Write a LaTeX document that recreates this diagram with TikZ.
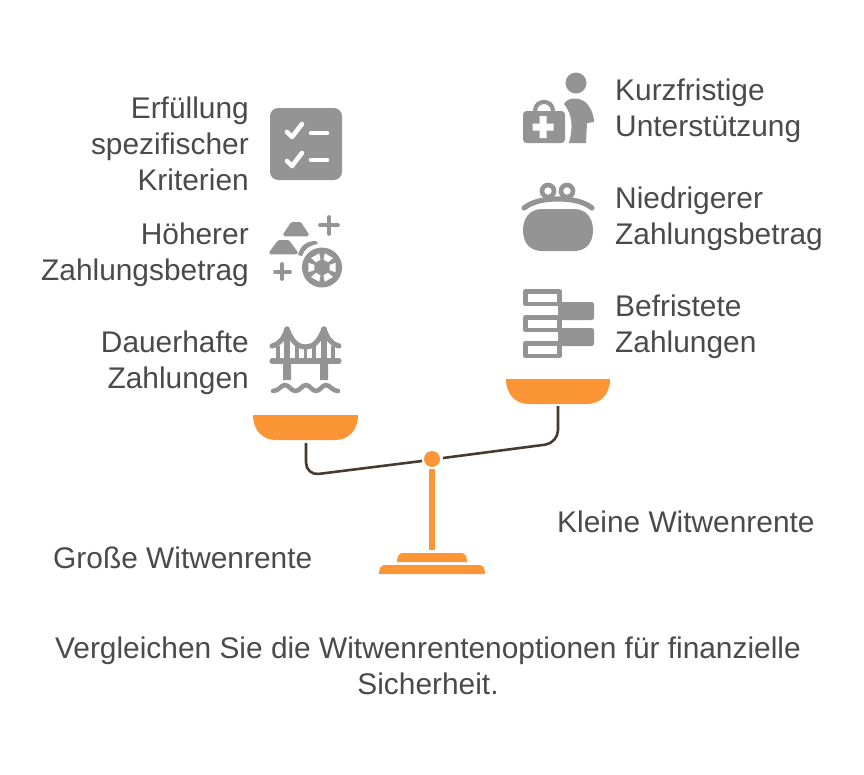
\documentclass[tikz,border=0pt]{standalone}
\usepackage{fontspec}
\setmainfont{Liberation Sans}
\definecolor{labelgray}{HTML}{4A4A4A}
\definecolor{icongray}{HTML}{949494}
\definecolor{scaleorange}{HTML}{FB9536}
\definecolor{beambrown}{HTML}{46392E}
\tikzset{
  lefttext/.style={anchor=east,align=right,text=labelgray,font=\fontsize{25.5}{30.7}\selectfont,inner sep=0pt},
  righttext/.style={anchor=west,align=left,text=labelgray,font=\fontsize{25.5}{30.7}\selectfont,inner sep=0pt},
  captiontext/.style={align=center,text=labelgray,font=\fontsize{25.5}{30.7}\selectfont,inner sep=0pt},
  iconline/.style={draw=icongray,line width=4.4pt,line cap=round,line join=round},
  whiteline/.style={draw=white,line width=3.9pt,line cap=round,line join=round},
  beamline/.style={draw=beambrown,line width=2.2pt,rounded corners=11pt}
}
\begin{document}
\begin{tikzpicture}[x=0.03cm,y=-0.03cm,line cap=round,line join=round]
  \useasboundingbox (0,0) rectangle (864,774);

  % Labels on the left
  \node[lefttext] (kriterien) at (249,144) {Erfüllung\\spezifischer\\Kriterien};
  \node[lefttext] (hoeher) at (249,255) {Höherer\\Zahlungsbetrag};
  \node[lefttext] (dauer) at (249,363) {Dauerhafte\\Zahlungen};

  % Labels on the right
  \node[righttext] (kurz) at (615,111) {Kurzfristige\\Unterstützung};
  \node[righttext] (niedrig) at (615,219) {Niedrigerer\\Zahlungsbetrag};
  \node[righttext] (befristet) at (615,327) {Befristete\\Zahlungen};

  % Names of the two options and the caption
  \node[righttext] (gross) at (53,558) {Große Witwenrente};
  \node[righttext] (klein) at (557,522) {Kleine Witwenrente};
  \node[captiontext] (caption) at (428,666) {Vergleichen Sie die Witwenrentenoptionen für finanzielle\\Sicherheit.};

  % Checklist icon
  \fill[icongray,rounded corners=7pt] (270,108) rectangle (342,180);
  \draw[whiteline] (287,132) -- (292,137) -- (302,124);
  \draw[whiteline] (287,161) -- (292,166) -- (302,153);
  \draw[whiteline] (311,133) -- (327,133);
  \draw[whiteline] (311,160) -- (327,160);

  % Gold and wheel icon
  \draw[icongray,fill=icongray,line width=3pt] (285,234.5) -- (292,224) -- (300,224) -- (307,234.5) -- cycle;
  \draw[icongray,fill=icongray,line width=3pt] (271,252.5) -- (279,242) -- (288,242) -- (296,252.5) -- cycle;
  \fill[icongray] (298,255) .. controls (300,247) and (305,241) .. (316,241) -- (318,244) .. controls (310,245) and (304,249) .. (302,256) -- cycle;
  \draw[icongray,line width=3.2pt] (329,217) -- (329,234) (320,225) -- (338,225);
  \draw[icongray,line width=3.2pt] (282,264) -- (282,279) (275,272) -- (290,272);
  \coordinate (wheel) at (322,267.5);
  \fill[icongray] (wheel) circle (20);
  \foreach \ang in {0,60,...,300}
    \fill[white] (wheel) +(\ang-19:8) -- +(\ang+19:8) -- +(\ang+19:14.5) -- +(\ang-19:14.5) -- cycle;

  % Bridge icon
  \draw[iconline] (287,329) -- (287,361) (324,329) -- (324,361);
  \draw[iconline] (272,346) .. controls (280,344) and (284,338) .. (287,329) .. controls (292,342) and (298,347) .. (305.5,347) .. controls (313,347) and (319,342) .. (324,329) .. controls (327,338) and (331,344) .. (339,346);
  \foreach \hanger in {278,297,305.5,314,333}
    \draw[icongray,line width=2.8pt,line cap=butt] (\hanger,346) -- (\hanger,362);
  \draw[iconline] (272,361) -- (339,361);
  \fill[icongray] (283,361) rectangle (291,380) (320,361) rectangle (328,380);
  \draw[icongray,line width=3.9pt] (273,391) .. controls (279,391) and (281,385) .. (285,385) .. controls (289,385) and (291,391) .. (295.5,391) .. controls (300,391) and (302,385) .. (306,385) .. controls (310,385) and (312,391) .. (316,391) .. controls (320,391) and (322,385) .. (326,385) .. controls (330,385) and (332,391) .. (338,391);

  % Carer and medical bag icon
  \fill[icongray] (576,83) circle (10.5);
  \fill[icongray] (569,143) .. controls (573,128) and (573,115) .. (564,104) .. controls (568,96) and (584,96) .. (590,108) .. controls (593,113) and (594,118) .. (594,122) -- (587,123) -- (586,143) -- cycle;
  \fill[icongray,rounded corners=3pt] (523,111) rectangle (565,143);
  \draw[icongray,line width=3.6pt] (535,111) .. controls (535,99) and (553,99) .. (553,111);
  \fill[white] (539.5,116) rectangle (546.5,138) (532.5,123.5) rectangle (553.5,130.5);

  % Purse icon
  \fill[icongray] (542,209) -- (574,209) .. controls (586,209) and (593,218) .. (593,230) .. controls (593,243) and (586,251) .. (574,251) -- (542,251) .. controls (530,251) and (523,243) .. (523,230) .. controls (523,218) and (530,209) .. (542,209) -- cycle;
  \draw[iconline] (524,208) .. controls (533,201) and (545,199) .. (558,199) .. controls (571,199) and (583,201) .. (592,208);
  \draw[icongray,line width=4pt] (548,191) circle (6) (567,191) circle (6);

  % Stacked bars icon
  \fill[icongray,rounded corners=2pt] (558,302) rectangle (594,320);
  \fill[icongray,rounded corners=2pt] (558,328) rectangle (594,346);
  \foreach \top in {291.5,317.5,343.5}
    \draw[icongray,fill=white,line width=4pt,line join=round] (525.5,\top) rectangle (559.5,\top+12.5);

  % Balance
  \coordinate (leftend) at (306,443);
  \coordinate (leftbend) at (306,475.5);
  \coordinate (leftbeam) at (422,461);
  \coordinate (rightend) at (558,406);
  \coordinate (rightbend) at (558,443);
  \coordinate (rightbeam) at (443,458);
  \draw[beamline,line cap=butt] (leftend) -- (leftbend) -- (leftbeam);
  \draw[beamline,line cap=butt] (rightend) -- (rightbend) -- (rightbeam);
  \fill[scaleorange] (253,415) -- (358,415) .. controls (358,431) and (348,440) .. (335,440) -- (276,440) .. controls (263,440) and (253,431) .. (253,415) -- cycle;
  \fill[scaleorange] (506,379) -- (610,379) .. controls (610,395) and (600,404) .. (587,404) -- (529,404) .. controls (516,404) and (506,395) .. (506,379) -- cycle;
  \fill[scaleorange] (432,459) circle (8);
  \fill[scaleorange] (429,469) rectangle (435,550);
  \fill[scaleorange] (397,562) .. controls (397,556) and (399,553) .. (403,553) -- (461,553) .. controls (465,553) and (467,556) .. (467,562) -- cycle;
  \fill[scaleorange] (379,574) .. controls (379,568) and (381,565) .. (385,565) -- (479,565) .. controls (483,565) and (485,568) .. (485,574) -- cycle;
\end{tikzpicture}
\end{document}
